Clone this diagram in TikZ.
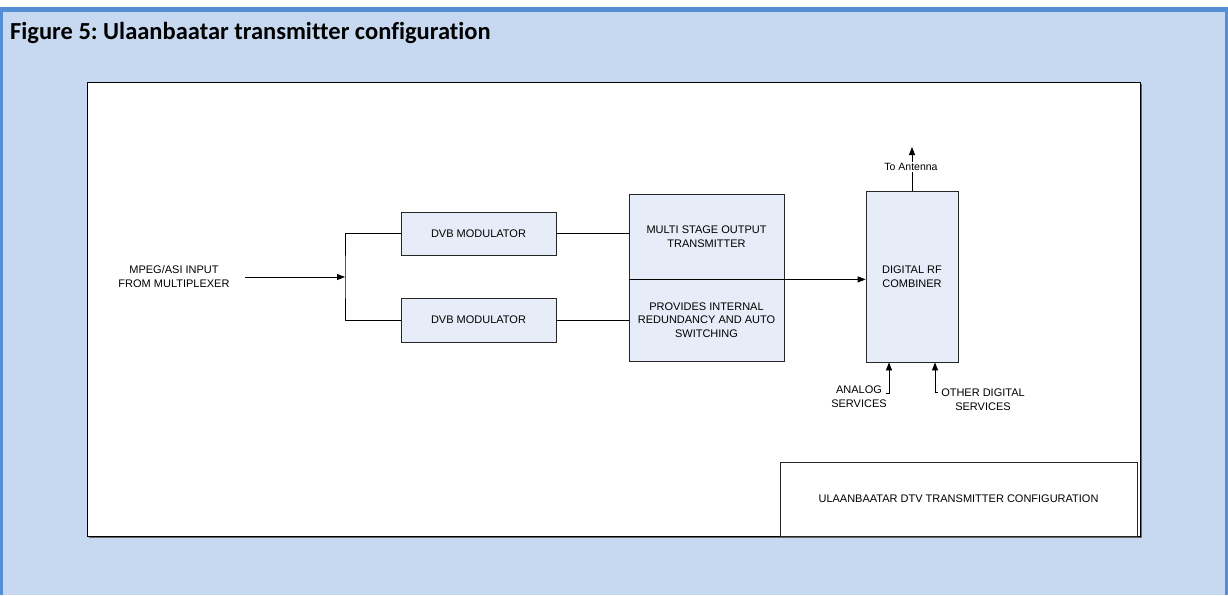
\documentclass[tikz,border=0pt]{standalone}
\usepackage{fontspec}
\setmainfont{Liberation Sans}
\newfontfamily\carlito{Carlito}[Ligatures=NoCommon]
\usetikzlibrary{arrows.meta}
\definecolor{panel}{HTML}{C6D9F1}
\definecolor{panelborder}{HTML}{558ED5}
\definecolor{boxfill}{HTML}{E6EDF8}
\frenchspacing
\begin{document}
\begin{tikzpicture}[x=1pt,y=-1pt,
  blk/.style={draw=black!85, fill=boxfill, line width=0.8pt, inner sep=0pt, align=center, font=\fontsize{11}{13.5}\selectfont},
  lbl/.style={align=center, font=\fontsize{11}{14}\selectfont, inner sep=0pt},
  conn/.style={line width=0.8pt, draw=black},
  arr/.style={conn, -{Triangle[length=8pt,width=6pt]}}]
\useasboundingbox (0,0) rectangle (1228,595);
% panel
\fill[white] (0,0) rectangle (1228,595);
\fill[panelborder] (0,7) rectangle (1228,595);
\fill[panel] (3,12) rectangle (1225,595);
\node[anchor=base west, inner sep=0pt, font=\carlito\bfseries\fontsize{24.5}{28}\selectfont] (title) at (10,39.5) {Figure 5: Ulaanbaatar transmitter configuration};
% diagram sheet
\draw[black!60, line width=0.8pt] (89,84) rectangle (1141,537);
\node[draw=black, fill=white, line width=0.8pt, minimum width=1053pt, minimum height=454pt, inner sep=0pt] (sheet) at (613.5,309) {};
\node[draw=black!85, fill=white, line width=0.8pt, minimum width=357pt, minimum height=74pt, inner sep=0pt, font=\fontsize{11}{13}\selectfont] (caption) at (958.5,499) {ULAANBAATAR DTV TRANSMITTER CONFIGURATION};
% blocks
\node[blk, minimum width=155pt, minimum height=43pt] (dvb1) at (478.5,233.5) {DVB MODULATOR};
\node[blk, minimum width=155pt, minimum height=44pt] (dvb2) at (478.5,320) {DVB MODULATOR};
\node[blk, minimum width=155pt, minimum height=85pt] (mst1) at (706.5,236.5) {MULTI STAGE OUTPUT\\TRANSMITTER};
\node[blk, minimum width=155pt, minimum height=82pt] (mst2) at (706.5,320) {PROVIDES INTERNAL\\REDUNDANCY AND AUTO\\SWITCHING};
\node[blk, minimum width=92pt, minimum height=171pt] (comb) at (912,276.5) {DIGITAL RF\\COMBINER};
% input
\node[lbl] (input) at (174,277) {MPEG/ASI INPUT\\FROM MULTIPLEXER};
\coordinate (split) at (345,277);
\draw[arr] ([xshift=15pt]input.east) -- (split);
\draw[conn] (dvb1.west) -| (split) |- (dvb2.west);
\draw[conn] (dvb1.east) -- (mst1.west |- dvb1.east);
\draw[conn] (dvb2.east) -- (mst2.west);
\draw[arr] (mst1.south west) -- (comb.west |- mst1.south);
% antenna
\coordinate (ant) at (912,147);
\draw[arr] (comb.north) -- (ant);
\node[lbl, fill=white, inner sep=1.5pt, font=\fontsize{10.5}{12}\selectfont] (antlbl) at (911,167) {To Antenna};
% bottom inputs
\coordinate (an0) at (886,393);
\coordinate (an) at (889,393);
\draw[arr] (an0) -- (an) -- (an |- comb.south);
\coordinate (od0) at (938,392);
\coordinate (od) at (935,392);
\draw[arr] (od0) -- (od) -- (od |- comb.south);
\node[lbl] (analog) at (859,397) {ANALOG\\SERVICES};
\node[lbl] (other) at (983,400) {OTHER DIGITAL\\SERVICES};
\end{tikzpicture}
\end{document}
